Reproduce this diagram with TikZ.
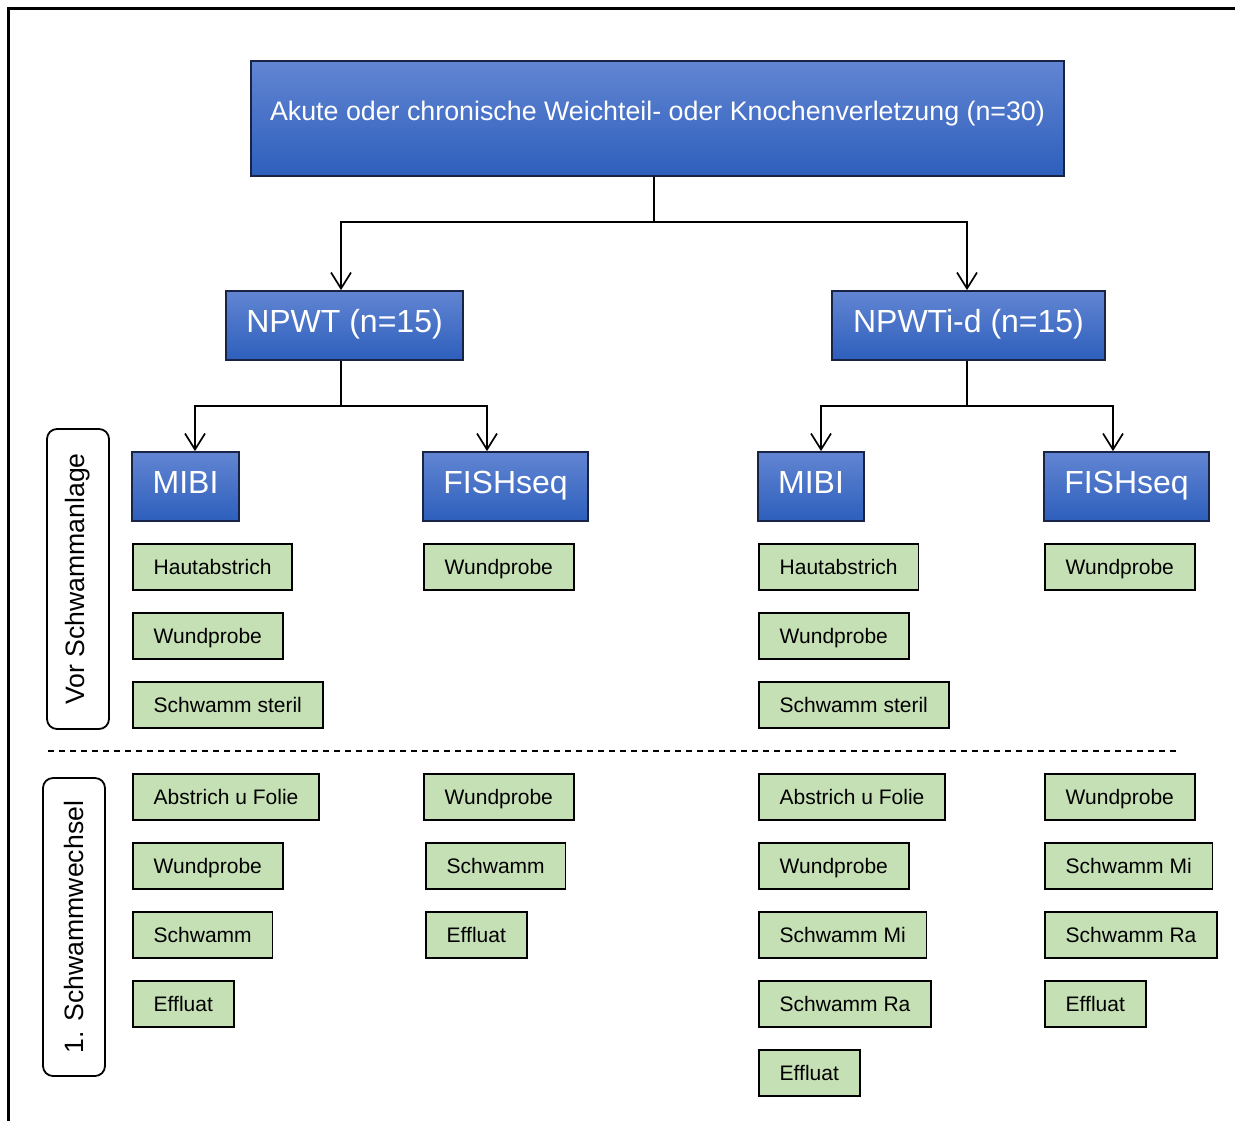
\documentclass[tikz,border=0pt]{standalone}
\usepackage{fontspec}
\setmainfont{Liberation Sans}
\usetikzlibrary{arrows.meta,positioning}
\definecolor{bluetop}{RGB}{98, 133, 210}
\definecolor{bluebottom}{RGB}{45, 95, 188}
\definecolor{blueline}{RGB}{25, 35, 70}
\definecolor{probegreen}{RGB}{197, 224, 180}

\begin{document}
\begin{tikzpicture}[x=0.5pt, y=-0.5pt]
	\tikzset{
		group/.style = {draw=blueline, line width=0.9pt, top color=bluetop, bottom color=bluebottom, text=white, font=\fontsize{16}{18}\selectfont, inner sep=0pt, text height=11.5pt, text depth=5pt, minimum height=34.5pt},
		probe/.style = {draw=black, line width=0.9pt, fill=probegreen, font=\fontsize{10.5}{12}\selectfont, anchor=west, inner xsep=10.4pt, inner ysep=0pt, text height=7.8pt, text depth=0pt, minimum height=23pt},
		phase/.style = {draw=black, line width=0.9pt, rounded corners=5pt, rotate=90, font=\fontsize{13.3}{15}\selectfont, minimum width=150pt, minimum height=31pt},
		link/.style = {line width=0.85pt},
		split/.style = {-{Straight Barb[length=8pt, width=10pt]}, line width=0.85pt}
	}
	\useasboundingbox (0,0) rectangle (1235,1120);
	% frame
	\draw[line width=1.5pt] (8,1130) -- (8,8) -- (1245,8);

	% groups
	\node[group, minimum width=406.5pt, minimum height=57.5pt, font=\fontsize{13.4}{15}\selectfont, text height=9.5pt, text depth=8pt] (study) at (657.5,118.5) {Akute oder chronische Weichteil- oder Knochenverletzung (n=30)};
	\node[group, minimum width=118.5pt] (npwt) at (344.5,325.5) {NPWT (n=15)};
	\node[group, minimum width=136.5pt] (npwtid) at (968.5,325.5) {NPWTi-d (n=15)};
	\node[group, minimum width=53.5pt] (mibiA) at (185.5,486.5) {MIBI};
	\node[group, minimum width=82.5pt] (fishA) at (505.5,486.5) {FISHseq};
	\node[group, minimum width=53pt] (mibiB) at (811,486.5) {MIBI};
	\node[group, minimum width=82.5pt] (fishB) at (1126.5,486.5) {FISHseq};

	% connectors
	\coordinate (forkTop) at (654,222);
	\coordinate (forkA) at (341,406);
	\coordinate (forkB) at (967,406);
	\draw[link] (study.south -| forkTop) -- (forkTop);
	\draw[split] (forkTop) -| (npwt.north -| forkA);
	\draw[split] (forkTop) -| (npwtid.north -| forkB);
	\draw[link] (npwt.south -| forkA) -- (forkA);
	\draw[split] (forkA) -| ([xshift=4.75pt]mibiA.north);
	\draw[split] (forkA) -| ([xshift=-9.25pt]fishA.north);
	\draw[link] (npwtid.south -| forkB) -- (forkB);
	\draw[split] (forkB) -| ([xshift=5pt]mibiB.north);
	\draw[split] (forkB) -| ([xshift=-6.75pt]fishB.north);

	% phase labels
	\node[phase] (vor) at (78,579) {Vor Schwammanlage};
	\node[phase, minimum width=149pt] (wechsel) at (74,927) {1. Schwammwechsel};
	\draw[dashed, dash pattern=on 3pt off 2.5pt, line width=0.9pt] (48,751) -- (1177,751);

	% samples before
	\node[probe] (a1) at (132,567) {Hautabstrich};
	\node[probe] (a2) at (132,636) {Wundprobe};
	\node[probe] (a3) at (132,705) {Schwamm steril};
	\node[probe] (b1) at (423,567) {Wundprobe};
	\node[probe] (c1) at (758,567) {Hautabstrich};
	\node[probe] (c2) at (758,636) {Wundprobe};
	\node[probe] (c3) at (758,705) {Schwamm steril};
	\node[probe] (d1) at (1044,567) {Wundprobe};

	% samples at first change
	\node[probe] (a4) at (132,797) {Abstrich u Folie};
	\node[probe] (a5) at (132,866) {Wundprobe};
	\node[probe] (a6) at (132,935) {Schwamm};
	\node[probe] (a7) at (132,1004) {Effluat};
	\node[probe] (b4) at (423,797) {Wundprobe};
	\node[probe] (b5) at (425,866) {Schwamm};
	\node[probe] (b6) at (425,935) {Effluat};
	\node[probe] (c4) at (758,797) {Abstrich u Folie};
	\node[probe] (c5) at (758,866) {Wundprobe};
	\node[probe] (c6) at (758,935) {Schwamm Mi};
	\node[probe] (c7) at (758,1004) {Schwamm Ra};
	\node[probe] (c8) at (758,1073) {Effluat};
	\node[probe] (d4) at (1044,797) {Wundprobe};
	\node[probe] (d5) at (1044,866) {Schwamm Mi};
	\node[probe] (d6) at (1044,935) {Schwamm Ra};
	\node[probe] (d7) at (1044,1004) {Effluat};
\end{tikzpicture}
\end{document}
